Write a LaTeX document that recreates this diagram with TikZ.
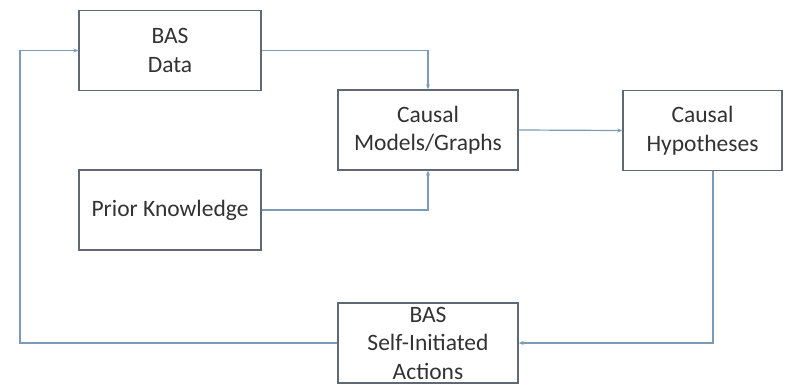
\documentclass[tikz,border=0pt]{standalone}
\usepackage{fontspec}
\setmainfont{Carlito}
\usetikzlibrary{arrows.meta}
\definecolor{lineBlue}{RGB}{125,155,185}
\definecolor{boxGray}{RGB}{95,105,115}
\definecolor{textGray}{RGB}{50,50,50}

\begin{document}
\begin{tikzpicture}[x=1pt, y=-1pt,
    box/.style={draw=boxGray, line width=1.4pt, text=textGray, align=center,
      inner sep=0pt, minimum width=182pt, minimum height=80pt,
      font=\fontsize{23.5}{28.5}\selectfont},
    link/.style={draw=lineBlue, line width=1.2pt, -{Stealth[length=5pt,width=4pt]}}]
  \useasboundingbox (0,0) rectangle (787,388);

  % Boxes
  \node[box] (data) at (170,50.5) {BAS\\Data};
  \node[box] (prior) at (170,210) {Prior Knowledge};
  \node[box, minimum width=180pt] (causal) at (428,130) {Causal\\Models/Graphs};
  \node[box, minimum width=159pt] (hyp) at (702.5,130.5) {Causal\\Hypotheses};
  \node[box, minimum width=180pt] (act) at (428,343) {BAS\\Self-Initiated\\Actions};

  % Feedback loop turn point
  \coordinate (loop) at (20,0);

  % Connectors
  \draw[link] (data.east) -| (causal.north);
  \draw[link] (prior.east) -| (causal.south);
  \draw[link] (causal.east) -- (hyp.west);
  \draw[link] ([xshift=10.5pt]hyp.south) |- (act.east);
  \draw[link] (act.west) -- (act.west -| loop) |- (data.west);
\end{tikzpicture}
\end{document}
